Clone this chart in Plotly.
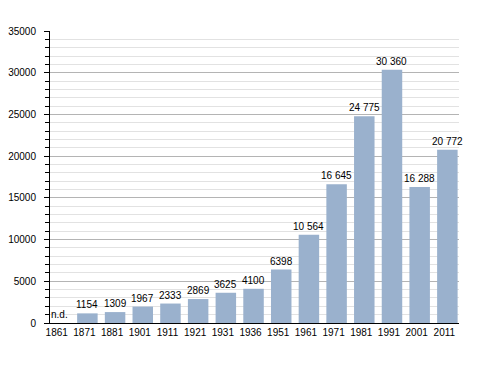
import plotly.graph_objects as go

years = ["1861", "1871", "1881", "1901", "1911", "1921", "1931", "1936",
         "1951", "1961", "1971", "1981", "1991", "2001", "2011"]
population = [None, 1154, 1309, 1967, 2333, 2869, 3625, 4100,
              6398, 10564, 16645, 24775, 30360, 16288, 20772]
value_labels = ["n.d.", "1154", "1309", "1967", "2333", "2869", "3625", "4100",
                "6398", "10 564", "16 645", "24 775", "30 360", "16 288", "20 772"]
y_ticks = [0, 5000, 10000, 15000, 20000, 25000, 30000, 35000]

xpos = list(range(len(years)))
yvals = [v if v is not None else 0 for v in population]

fig = go.Figure()
fig.add_trace(go.Bar(
    x=xpos, y=yvals, hoverinfo="skip",
    marker=dict(color="#9AB1CD", line=dict(width=0)), width=0.74,
))

for x, v, lab in zip(xpos, yvals, value_labels):
    fig.add_annotation(x=x, y=v, text=lab, showarrow=False, yanchor="bottom",
                       xanchor="center", yshift=1,
                       xshift=0 if v == 0 else 0,
                       font=dict(size=10, color="#000"))

fig.update_layout(
    width=472, height=357,
    margin=dict(l=42, r=21, t=23, b=42, autoexpand=False),
    paper_bgcolor="white", plot_bgcolor="white",
    font=dict(family="Liberation Sans, Arial, sans-serif", size=10, color="#000"),
    showlegend=False,
    xaxis=dict(
        range=[-0.35, 14.42], tickmode="array", tickvals=xpos, ticktext=years,
        showgrid=False, zeroline=False, showline=True, linecolor="#000", linewidth=1,
        ticks="", tickfont=dict(size=10), automargin=False, ticklabelshift=-3,
    ),
    yaxis=dict(
        range=[0, 35000], tickmode="array", tickvals=y_ticks,
        ticktext=[str(t) for t in y_ticks],
        showgrid=True, gridcolor="#b4b4b4", gridwidth=1,
        zeroline=False, showline=True, linecolor="#000", linewidth=1,
        ticks="outside", ticklen=5, tickcolor="#000", tickfont=dict(size=10),
        ticklabelstandoff=6, automargin=False,
        minor=dict(dtick=1000, tick0=0, ticks="outside", ticklen=4, tickcolor="#000",
                   showgrid=True, gridcolor="#e2e2e2", gridwidth=1),
    ),
)

fig.write_html("out.html")
